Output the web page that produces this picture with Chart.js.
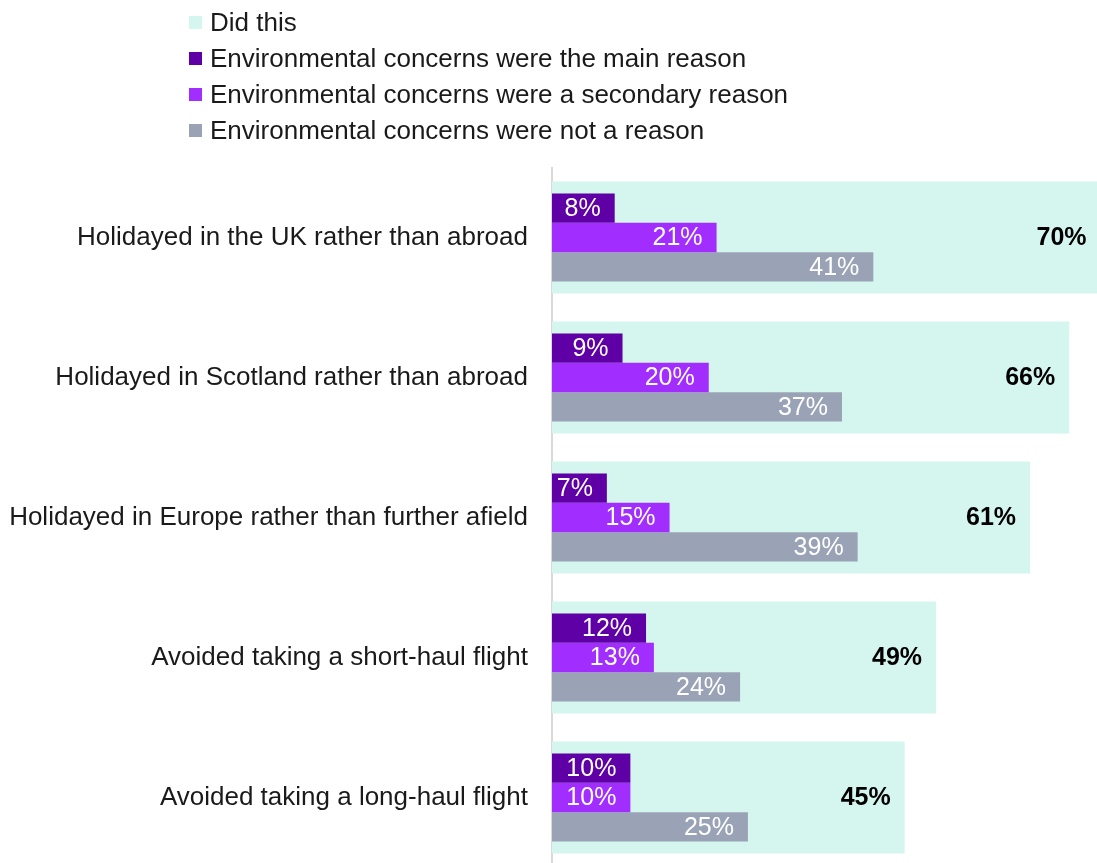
<!DOCTYPE html>
<html>
<head>
<meta charset="utf-8">
<script src="https://cdn.jsdelivr.net/npm/chart.js@4"></script>
<style>
  html, body { margin: 0; padding: 0; background: #fff; overflow: hidden; }
  #wrap { position: relative; width: 1097px; height: 863px; overflow: hidden; }
  #chart { position: absolute; left: 0; top: 0; }
  #legend { position: absolute; left: 189px; top: 4px; font-family: "Liberation Sans", Arial, sans-serif; font-size: 26px; color: #1a1a1a; }
  .item { height: 36px; line-height: 36px; display: flex; align-items: center; white-space: nowrap; }
  .swatch { width: 13px; height: 13px; margin-right: 8px; flex: none; }
</style>
</head>
<body>
<div id="wrap">
  <canvas id="chart" width="1102" height="870"></canvas>
  <div id="legend"></div>
</div>
<script>
// Chart data
const categories = [
  "Holidayed in the UK rather than abroad",
  "Holidayed in Scotland rather than abroad",
  "Holidayed in Europe rather than further afield",
  "Avoided taking a short-haul flight",
  "Avoided taking a long-haul flight",
];
const didThis = [70, 66, 61, 49, 45];
const mainReason = [8, 9, 7, 12, 10];
const secondaryReason = [21, 20, 15, 13, 10];
const notReason = [41, 37, 39, 24, 25];

const seriesNames = [
  "Did this",
  "Environmental concerns were the main reason",
  "Environmental concerns were a secondary reason",
  "Environmental concerns were not a reason",
];
const seriesColors = ["#d5f5ef", "#5e00a5", "#a22dff", "#9aa3b5"];

// Legend (html)
const legendEl = document.getElementById("legend");
seriesNames.forEach((name, i) => {
  const row = document.createElement("div");
  row.className = "item";
  const sw = document.createElement("span");
  sw.className = "swatch";
  sw.style.background = seriesColors[i];
  const txt = document.createElement("span");
  txt.textContent = name;
  row.appendChild(sw);
  row.appendChild(txt);
  legendEl.appendChild(row);
});

// Value labels drawn at the end of every bar
const valueLabels = {
  id: "valueLabels",
  afterDatasetsDraw(chart) {
    const ctx = chart.ctx;
    ctx.save();
    ctx.textAlign = "right";
    ctx.textBaseline = "middle";
    chart.data.datasets.forEach((ds, di) => {
      const meta = chart.getDatasetMeta(di);
      const isTotal = ds.grouped === false;
      ctx.font = (isTotal ? "bold " : "") + '25px "Liberation Sans", Arial, sans-serif';
      ctx.fillStyle = isTotal ? "#000" : "#fff";
      meta.data.forEach((bar, i) => {
        ctx.fillText(ds.data[i] + "%", bar.x - 14, bar.y + 1);
      });
    });
    ctx.restore();
  },
};

const subBar = { categoryPercentage: 0.63, barPercentage: 1, order: 0 };

new Chart(document.getElementById("chart"), {
  type: "bar",
  data: {
    labels: categories,
    datasets: [
      { label: seriesNames[1], data: mainReason, backgroundColor: seriesColors[1], ...subBar },
      { label: seriesNames[2], data: secondaryReason, backgroundColor: seriesColors[2], ...subBar },
      { label: seriesNames[3], data: notReason, backgroundColor: seriesColors[3], ...subBar },
      {
        label: seriesNames[0],
        data: didThis,
        backgroundColor: seriesColors[0],
        grouped: false,
        categoryPercentage: 1,
        barPercentage: 0.8,
        order: 1,
      },
    ],
  },
  options: {
    indexAxis: "y",
    responsive: false,
    animation: false,
    layout: { padding: { top: 167.5, bottom: 2.5, left: 0, right: 1.4 } },
    plugins: {
      legend: { display: false },
      tooltip: { enabled: false },
    },
    scales: {
      x: { type: "linear", min: 0, max: 70, display: false },
      y: {
        type: "category",
        position: "left",
        offset: true,
        grid: { display: false, drawTicks: false },
        border: { display: true, color: "#d9d9d9", width: 2 },
        ticks: {
          padding: 24,
          color: "#1a1a1a",
          autoSkip: false,
          font: { family: '"Liberation Sans", Arial, sans-serif', size: 26 },
        },
        afterFit: (scale) => {
          scale.width = 552;
          scale.paddingTop = 0;
          scale.paddingBottom = 0;
        },
      },
    },
  },
  plugins: [valueLabels],
});
</script>
</body>
</html>
